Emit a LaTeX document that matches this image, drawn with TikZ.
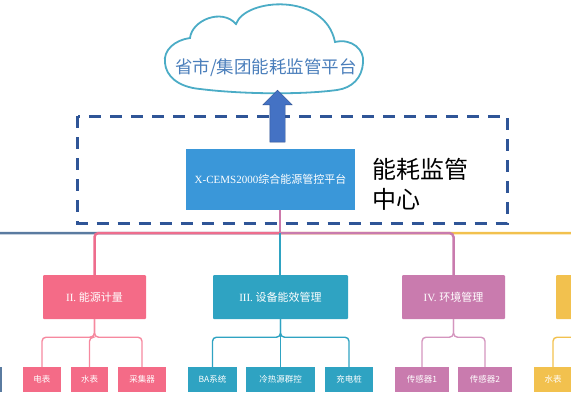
\documentclass[tikz,border=0pt]{standalone}
\usepackage{fontspec}
\setmainfont{Liberation Serif}
\newfontfamily\cjk{Noto Sans CJK SC}
\usepackage{xcolor}
\usetikzlibrary{positioning, calc, shapes, shapes.arrows, arrows.meta}
\definecolor{roseC}{HTML}{F46B87}
\definecolor{tealC}{HTML}{2FA3C2}
\definecolor{mauveC}{HTML}{C97BAE}
\definecolor{goldC}{HTML}{F2C14E}
\definecolor{steelC}{HTML}{5A7BA0}
\definecolor{platC}{HTML}{3A97D9}
\definecolor{dashC}{HTML}{2F5597}
\definecolor{arrowC}{HTML}{4472C4}
\definecolor{arrowD}{HTML}{2F528F}
\definecolor{cloudC}{HTML}{4BACC6}
\definecolor{cloudT}{HTML}{4A7EBB}
\tikzstyle{Mid} = [minimum height=44pt, inner sep=0pt, text=white,
font=\fontsize{11}{12}\selectfont, rounded corners=1pt]
\tikzstyle{Leaf} = [minimum height=25pt, inner sep=0pt, text=white,
font=\cjk\fontsize{8.5}{10}\selectfont]
\tikzstyle{Bus} = [line width=2.5pt, rounded corners=4pt]
\tikzstyle{Sub} = [line width=1.4pt, rounded corners=4pt]

\begin{document}
\begin{tikzpicture}[x=1pt, y=-1pt]
    \clip (0,0) rectangle (571,405);
    \draw[cloudC, line width=1.8pt, fill=white] (165,63) .. controls (163,50) and (175,40) .. (190,38)
        .. controls (192,20) and (222,8) .. (236,24)
        .. controls (245,-2) and (325,-8) .. (335,42)
        .. controls (352,38) and (365,50) .. (363,63)
        .. controls (362,78) and (352,88) .. (337,90)
        .. controls (300,95) and (240,94) .. (200,89)
        .. controls (178,87) and (166,76) .. (165,63) -- cycle;
    \node[text=cloudT, font=\cjk\fontsize{17.5}{20}\selectfont] (cloud) at (266,68) {省市/集团能耗监管平台};

    \draw[dashC, line width=3pt, dash pattern=on 12pt off 9pt] (77.5,116) rectangle (507,223);
    \node[fill=platC, minimum width=169pt, minimum height=61pt, inner sep=0pt, text=white,
        font=\fontsize{11}{13}\selectfont] (plat) at (270.5,179.5) {X-CEMS2000{\cjk 综合能源管控平台}};
    \node[right=17pt of plat, yshift=-5pt, align=left, inner sep=0pt,
        font=\cjk\fontsize{24}{30}\selectfont] (center) {能耗监管\\中心};
    \node[single arrow, draw=arrowD, fill=arrowC, shape border rotate=90, inner sep=7.5pt,
        minimum height=52pt, minimum width=29pt, single arrow head extend=7pt] (up) at (277.5,120) {};

    \node[Mid, fill=roseC, minimum width=103pt] (II) at (94.5,297) {II. {\cjk 能源计量}};
    \node[Mid, fill=tealC, minimum width=135pt] (III) at (280.5,297) {III. {\cjk 设备能效管理}};
    \node[Mid, fill=mauveC, minimum width=103pt] (IV) at (453.5,297) {IV. {\cjk 环境管理}};
    \node[Mid, fill=goldC, minimum width=103pt] (V) at (607.5,297) {};
    \coordinate (I) at (-60,275);
    \coordinate (bus) at (280,233);

    \node[Leaf, fill=steelC, minimum width=38pt] (s1) at (-17.5,379.5) {};
    \node[Leaf, fill=roseC, minimum width=38pt] (e1) at (42,379.5) {电表};
    \node[Leaf, fill=roseC, minimum width=37pt] (e2) at (89.5,379.5) {水表};
    \node[Leaf, fill=roseC, minimum width=48pt] (e3) at (142,379.5) {采集器};
    \node[Leaf, fill=tealC, minimum width=49pt] (t1) at (212.5,379.5) {BA系统};
    \node[Leaf, fill=tealC, minimum width=69pt] (t2) at (280.5,379.5) {冷热源群控};
    \node[Leaf, fill=tealC, minimum width=48pt] (t3) at (349,379.5) {充电桩};
    \node[Leaf, fill=mauveC, minimum width=54pt] (m1) at (422,379.5) {传感器1};
    \node[Leaf, fill=mauveC, minimum width=54pt] (m2) at (485,379.5) {传感器2};
    \node[Leaf, fill=goldC, minimum width=38pt] (y1) at (553,379.5) {水表};

    \draw[Bus, color=mauveC!90!roseC] (plat.south -| bus)--(bus);
    \draw[Bus, steelC] (bus) -| (I);
    \draw[Bus, goldC] (bus) -| (V.north);
    \draw[Bus, roseC!85!mauveC] (bus) -| (II.north);
    \draw[Bus, mauveC] (bus) -| (IV.north);
    \draw[Bus, tealC, line width=2pt] (bus)--(bus |- III.north);

    \draw[Sub, roseC!80] (II.south) -- ++(0,18) -| (e1.north);
    \draw[Sub, roseC!80] (II.south) -- ++(0,18) -| (e2.north);
    \draw[Sub, roseC!80] (II.south) -- ++(0,18) -| (e3.north);
    \draw[Sub, tealC] (III.south) -- ++(0,18) -| (t1.north);
    \draw[Sub, tealC] (III.south)--(t2.north);
    \draw[Sub, tealC] (III.south) -- ++(0,18) -| (t3.north);
    \draw[Sub, mauveC!80] (IV.south) -- ++(0,18) -| (m1.north);
    \draw[Sub, mauveC!80] (IV.south) -- ++(0,18) -| (m2.north);
    \draw[Sub, goldC] (V.south) -- ++(0,18) -| (y1.north);
\end{tikzpicture}
\end{document}
